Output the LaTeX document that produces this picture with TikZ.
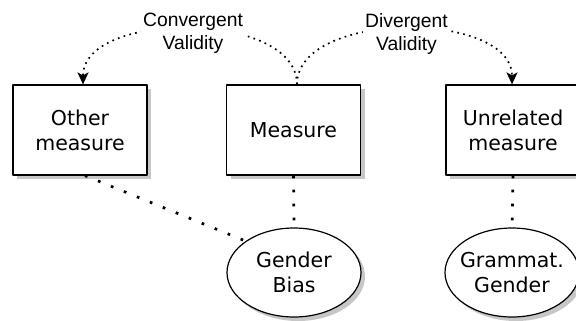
\documentclass[tikz,border=0pt]{standalone}
\usepackage{fontspec}
\setmainfont{DejaVu Sans}
\newfontfamily\validityfont{Liberation Sans}
\usetikzlibrary{arrows.meta,shapes.geometric,shadows}

\begin{document}
\begin{tikzpicture}[x=1bp, y=-1bp, line join=round,
	measurebox/.style={draw, line width=1.2bp, fill=white, minimum width=134bp, minimum height=90bp,
		inner sep=0pt, align=center, font=\fontsize{20.5bp}{25bp}\selectfont,
		drop shadow={shadow xshift=4bp, shadow yshift=-4bp, fill=black!22, opacity=1}},
	constructnode/.style={measurebox, ellipse, minimum height=89bp, inner sep=-12bp},
	validity/.style={line width=1.7bp, dash pattern=on 1.7bp off 4.3bp, -{Stealth[length=12bp, width=11bp, inset=3bp]}},
	tie/.style={line width=2.7bp, dash pattern=on 2.7bp off 11.3bp},
	vlabel/.style={fill=white, inner sep=2bp, align=center, font=\validityfont\fontsize{19.3bp}{23bp}\selectfont}]
	\useasboundingbox (0,0) rectangle (576,320);
	% measures
	\node[measurebox] (other) at (80,130) {Other\\measure};
	\node[measurebox] (measure) at (293.5,130) {Measure};
	\node[measurebox] (unrelated) at (513,130) {Unrelated\\measure};
	% constructs
	\node[constructnode] (bias) at (294,272.5) {Gender\\Bias};
	\node[constructnode] (grammat) at (512,272.5) {Grammat.\\Gender};
	% validity arcs
	\draw[validity] ([xshift=3.5bp]measure.north) .. controls (297,10) and (83,10) .. ([xshift=3bp]other.north)
		node[vlabel, pos=0.5, xshift=3bp, yshift=-5bp] {Convergent\\Validity};
	\draw[validity] ([xshift=3.5bp]measure.north) .. controls (297,10) and (512,10) .. ([xshift=-1bp]unrelated.north)
		node[vlabel, pos=0.5, xshift=2bp, yshift=-5bp] {Divergent\\Validity};
	% ties to constructs
	\draw[tie] ([xshift=5bp]other.south) -- (bias.147);
	\draw[tie] (measure.south) -- (bias.north);
	\draw[tie] (unrelated.south) -- (grammat.north);
\end{tikzpicture}
\end{document}
